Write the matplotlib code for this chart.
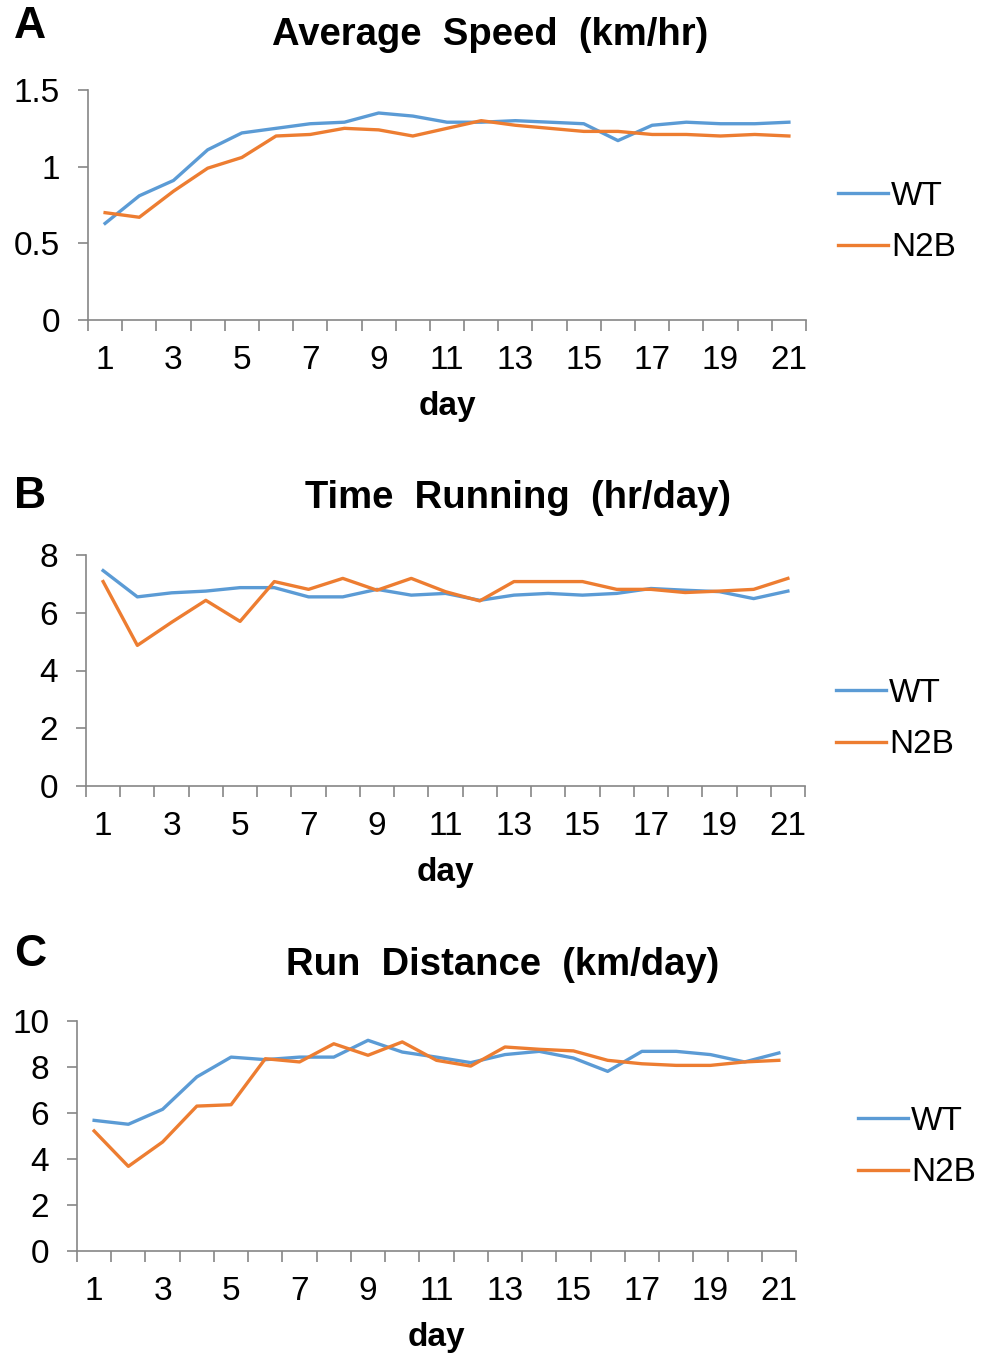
import matplotlib
matplotlib.use("Agg")
import matplotlib.pyplot as plt
import numpy as np

plt.rcParams["font.family"] = ["Liberation Sans", "DejaVu Sans"]

days = list(range(1, 22))
series_names = ["WT", "N2B"]

speed_wt = [0.63, 0.81, 0.91, 1.11, 1.22, 1.25, 1.28, 1.29, 1.35, 1.33, 1.29,
            1.29, 1.30, 1.29, 1.28, 1.17, 1.27, 1.29, 1.28, 1.28, 1.29]
speed_n2b = [0.70, 0.67, 0.84, 0.99, 1.06, 1.20, 1.21, 1.25, 1.24, 1.20, 1.25,
             1.30, 1.27, 1.25, 1.23, 1.23, 1.21, 1.21, 1.20, 1.21, 1.20]

time_wt = [7.46, 6.55, 6.69, 6.75, 6.87, 6.87, 6.55, 6.55, 6.81, 6.61, 6.67,
           6.43, 6.61, 6.67, 6.61, 6.67, 6.84, 6.78, 6.73, 6.49, 6.75]
time_n2b = [7.08, 4.87, 5.67, 6.43, 5.70, 7.08, 6.81, 7.19, 6.78, 7.19, 6.73,
            6.41, 7.08, 7.08, 7.08, 6.81, 6.81, 6.70, 6.75, 6.81, 7.19]

dist_wt = [5.68, 5.51, 6.16, 7.57, 8.43, 8.32, 8.43, 8.43, 9.16, 8.65, 8.43,
           8.19, 8.54, 8.68, 8.39, 7.81, 8.68, 8.68, 8.54, 8.22, 8.61]
dist_n2b = [5.22, 3.68, 4.74, 6.30, 6.36, 8.36, 8.22, 9.01, 8.51, 9.09, 8.29,
            8.04, 8.87, 8.77, 8.70, 8.29, 8.14, 8.07, 8.07, 8.22, 8.29]

W, H = 982, 1359
BLUE = "#5B9BD5"
ORANGE = "#ED7D31"
GRAY = "#868686"
TICK_FS = 24


def box(left, right, top, bottom):
    return [left / W, 1 - bottom / H, (right - left) / W, (bottom - top) / H]


def panel(fig, rect, wt, n2b, ymax, ystep, title, title_xy, letter, letter_xy, leg_xy):
    ax = fig.add_axes(box(*rect))
    ax.plot(days, wt, color=BLUE, lw=2.4, label=series_names[0])
    ax.plot(days, n2b, color=ORANGE, lw=2.4, label=series_names[1])
    ax.set_xlim(0.5, 21.5)
    ax.set_ylim(0, ymax)
    yt = np.arange(0, ymax + ystep / 2, ystep)
    ax.set_yticks(yt)
    ax.set_yticklabels([f"{v:g}" for v in yt])
    ax.set_xticks(days[::2])
    ax.set_xticks(np.arange(0.5, 22, 1), minor=True)
    for s in ["top", "right"]:
        ax.spines[s].set_visible(False)
    for s in ["left", "bottom"]:
        ax.spines[s].set_color(GRAY)
        ax.spines[s].set_linewidth(1.2)
    ax.tick_params(axis="x", which="major", length=0, pad=18, labelsize=TICK_FS)
    ax.tick_params(axis="x", which="minor", length=8, width=1.2, color=GRAY, direction="out")
    ax.tick_params(axis="y", length=7, width=1.2, color=GRAY, pad=13, labelsize=TICK_FS)
    ax.set_xlabel("day", fontsize=TICK_FS, fontweight="bold", labelpad=11)
    fig.text(title_xy[0] / W, 1 - title_xy[1] / H, title, fontsize=27.5,
             fontweight="bold", ha="center", va="center")
    fig.text(letter_xy[0] / W, 1 - letter_xy[1] / H, letter, fontsize=32,
             fontweight="bold", ha="center", va="center")
    ax.legend(loc="center left", bbox_to_anchor=(leg_xy[0] / W, 1 - leg_xy[1] / H),
              bbox_transform=fig.transFigure, frameon=False, fontsize=TICK_FS,
              handlelength=1.5, handletextpad=0.1, labelspacing=0.62,
              borderpad=0, borderaxespad=0)
    return ax


fig = plt.figure(figsize=(W / 100, H / 100), dpi=100)

panel(fig, (88, 806, 90, 320), speed_wt, speed_n2b, 1.5, 0.5,
      "Average  Speed  (km/hr)", (490, 35), "A", (30, 26), (838, 222))
panel(fig, (86, 805, 555, 786), time_wt, time_n2b, 8, 2,
      "Time  Running  (hr/day)", (518, 498), "B", (30, 497), (836, 719))
panel(fig, (77, 796, 1021, 1251), dist_wt, dist_n2b, 10, 2,
      "Run  Distance  (km/day)", (503, 965), "C", (30, 955), (858, 1147))

fig.savefig("out.png", dpi=100)
